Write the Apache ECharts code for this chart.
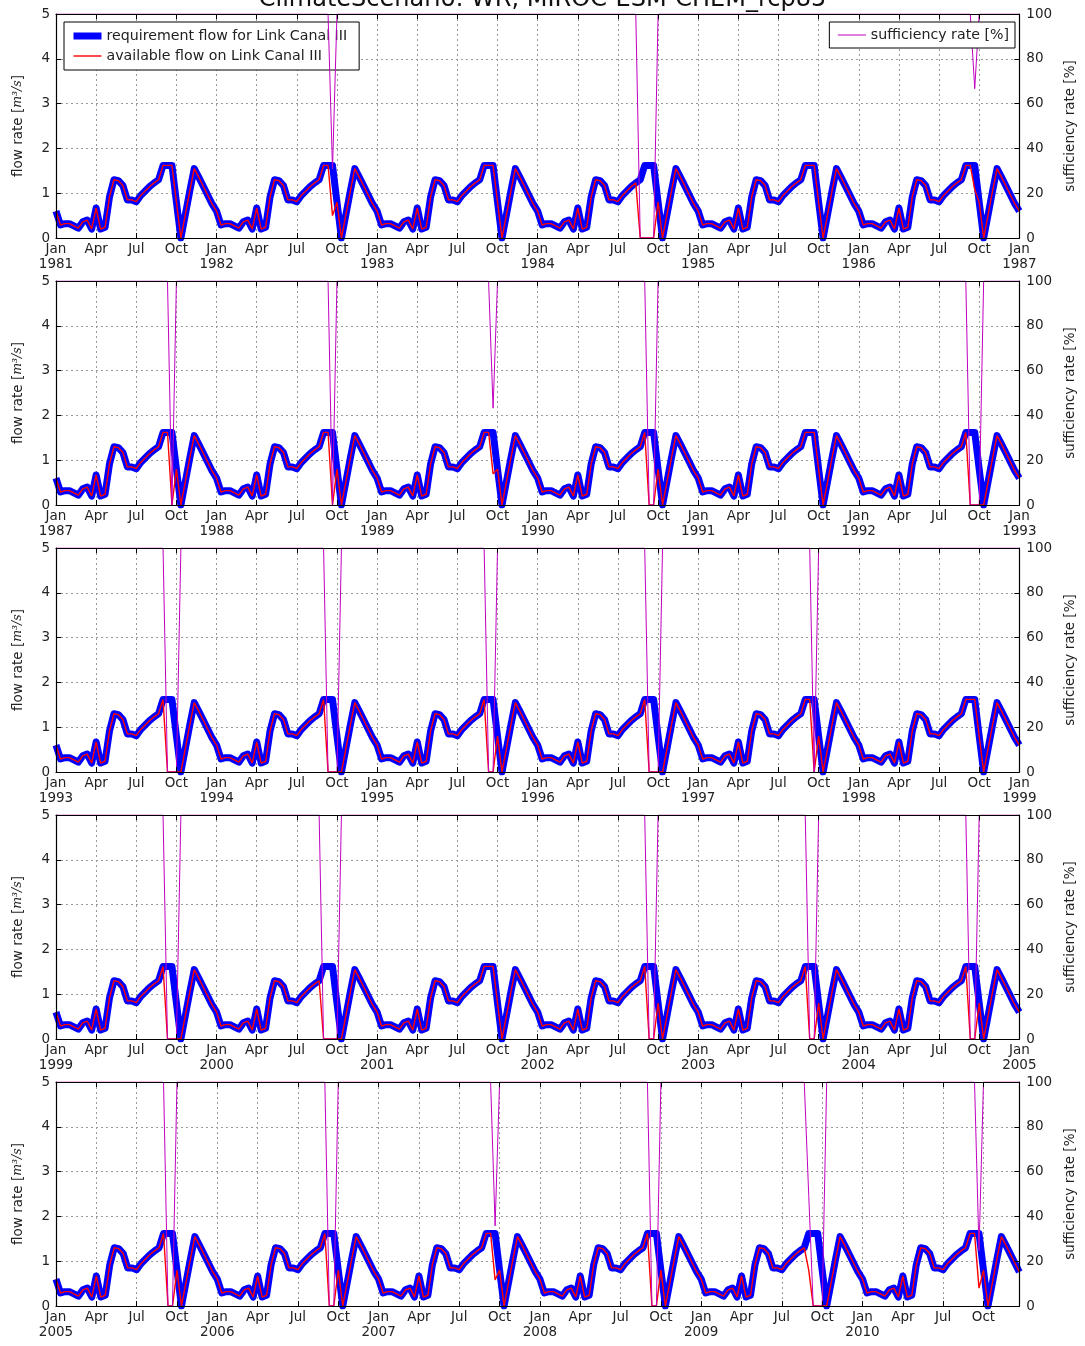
<!DOCTYPE html>
<html><head><meta charset="utf-8">
<script src="https://cdn.jsdelivr.net/npm/echarts@6/dist/echarts.min.js"></script>
<style>html,body{margin:0;padding:0;background:#fff}#c{width:1085px;height:1346px}</style>
</head><body><div id="c"></div>
<script>
// ---------- data ----------
const firstYear = 1981;
const lastYear = 2010;
const panelStarts = [1981, 1987, 1993, 1999, 2005];
const tickMonthNames = ['Jan', 'Apr', 'Jul', 'Oct'];
// requirement flow [m3/s] for the 36 dekads of a year (1,11,21 of each month) - same each year
const requirement = [
  0.60, 0.29, 0.32,   // Jan
  0.32, 0.27, 0.22,   // Feb
  0.36, 0.40, 0.20,   // Mar
  0.67, 0.20, 0.24,   // Apr
  0.92, 1.30, 1.28,   // May
  1.17, 0.85, 0.85,   // Jun
  0.81, 0.95, 1.05,   // Jul
  1.15, 1.23, 1.30,   // Aug
  1.62, 1.62, 1.62,   // Sep
  0.80, 0.00, 0.52,   // Oct
  1.05, 1.55, 1.36,   // Nov
  1.16, 0.96, 0.76    // Dec
];
// dekads where available flow is below requirement: [year, dekad (0..35), available flow]
const shortfalls = [
  [1982, 26, 0.50],
  [1984, 23, 0], [1984, 24, 0], [1984, 25, 0], [1984, 26, 0],
  [1986, 26, 1.08],
  [1987, 26, 0],
  [1988, 26, 0],
  [1989, 26, 0.70],
  [1990, 25, 0], [1990, 26, 0],
  [1992, 25, 0], [1992, 26, 0], [1992, 27, 0],
  [1993, 25, 0], [1993, 26, 0], [1993, 27, 0],
  [1994, 25, 0], [1994, 26, 0], [1994, 27, 0],
  [1995, 25, 0], [1995, 26, 0],
  [1996, 25, 0], [1996, 26, 0], [1996, 27, 0],
  [1997, 26, 0],
  [1999, 25, 0], [1999, 26, 0], [1999, 27, 0],
  [2000, 24, 0], [2000, 25, 0], [2000, 26, 0], [2000, 27, 0],
  [2002, 25, 0], [2002, 26, 0],
  [2003, 25, 0], [2003, 26, 0],
  [2004, 25, 0], [2004, 26, 0],
  [2005, 25, 0], [2005, 26, 0],
  [2006, 25, 0], [2006, 26, 0],
  [2007, 26, 0.58],
  [2008, 25, 0], [2008, 26, 0],
  [2009, 24, 0.80], [2009, 25, 0], [2009, 26, 0], [2009, 27, 0],
  [2010, 26, 0.40]
];
const titleText = 'ClimateScenario: WR, MIROC-ESM-CHEM_rcp85';
const nameReq = 'requirement flow for Link Canal III';
const nameAvail = 'available flow on Link Canal III';
const nameSuff = 'sufficiency rate [%]';

// ---------- build series (x in months since Jan of first year) ----------
const shortMap = {};
shortfalls.forEach(s => { shortMap[s[0] + '_' + s[1]] = s[2]; });
const reqAll = [], availAll = [], suffAll = [];
for (let y = firstYear; y <= lastYear; y++) {
  for (let d = 0; d < 36; d++) {
    const x = (y - firstYear) * 12 + d / 3;
    const r = requirement[d];
    const key = y + '_' + d;
    const a = (key in shortMap) ? shortMap[key] : r;
    reqAll.push([x, r]);
    availAll.push([x, a]);
    suffAll.push([x, r === 0 ? 100 : a / r * 100]);
  }
}
const lastX = reqAll[reqAll.length - 1][0];

const FONT = 'DejaVu Sans';
const grids = [], xAxes = [], yAxes = [], series = [];
panelStarts.forEach((ps, i) => {
  const off = (ps - firstYear) * 12;
  const xmax = Math.min(72, lastX - off);
  grids.push({ left: 56, width: 966, top: 14 + i * 267, height: 224 });
  const fmt = v => {
    const r = Math.round(v);
    if (Math.abs(v - r) > 1e-6 || r % 3 !== 0) return '';
    const m = r % 12;
    return m === 0 ? tickMonthNames[0] + '\n' + (ps + Math.floor(r / 12)) : tickMonthNames[m / 3];
  };
  const lineS = { show: true, onZero: false, lineStyle: { color: '#000', width: 1.2 } };
  const tickS = { show: true, inside: true, length: 5, lineStyle: { color: '#000' } };
  xAxes.push({ type: 'value', gridIndex: i, min: 0, max: xmax, interval: 3, position: 'bottom', z: 10,
    axisLine: lineS, axisTick: tickS,
    axisLabel: { formatter: fmt, color: '#222', fontSize: 13.5, fontFamily: FONT, lineHeight: 15, margin: 4, showMaxLabel: true },
    splitLine: { show: false } });
  xAxes.push({ type: 'value', gridIndex: i, min: 0, max: xmax, interval: 3, position: 'top', z: 10,
    axisLine: lineS, axisTick: tickS, axisLabel: { show: false }, splitLine: { show: false } });
  xAxes.push({ type: 'value', gridIndex: i, min: 0, max: xmax, interval: 3, position: 'bottom', z: 0,
    axisLine: { show: false }, axisTick: { show: false }, axisLabel: { show: false },
    splitLine: { show: true, lineStyle: { color: '#9a9a9a', width: 1, type: [2, 3] } } });
  yAxes.push({ type: 'value', gridIndex: i, min: 0, max: 5, interval: 1, position: 'left', z: 10,
    axisLine: lineS, axisTick: tickS,
    axisLabel: { color: '#222', fontSize: 13.5, fontFamily: FONT, margin: 6 },
    splitLine: { show: false },
    name: 'flow rate [{i|m³/s}]', nameLocation: 'middle', nameGap: 31, nameRotate: 90,
    nameTextStyle: { color: '#222', fontSize: 13.5, fontFamily: FONT,
      rich: { i: { fontStyle: 'italic', fontFamily: 'DejaVu Serif', fontSize: 12.5, color: '#222' } } } });
  yAxes.push({ type: 'value', gridIndex: i, min: 0, max: 100, interval: 20, position: 'right', z: 10,
    axisLine: lineS, axisTick: tickS,
    axisLabel: { color: '#222', fontSize: 13.5, fontFamily: FONT, margin: 7 },
    splitLine: { show: false },
    name: nameSuff, nameLocation: 'middle', nameGap: 38, nameRotate: 90,
    nameTextStyle: { color: '#222', fontSize: 13.5, fontFamily: FONT } });
  yAxes.push({ type: 'value', gridIndex: i, min: 0, max: 5, interval: 1, position: 'left', z: 0,
    axisLine: { show: false }, axisTick: { show: false }, axisLabel: { show: false },
    splitLine: { show: true, lineStyle: { color: '#9a9a9a', width: 1, type: [2, 3] } } });

  const sel = arr => arr.filter(p => p[0] >= off - 1e-9 && p[0] <= off + 72 + 1e-9).map(p => [p[0] - off, p[1]]);
  const base = { type: 'line', xAxisIndex: 3 * i, symbol: 'none', animation: false, clip: true, silent: true };
  series.push(Object.assign({}, base, { name: nameReq, yAxisIndex: 3 * i, data: sel(reqAll), z: 2,
    lineStyle: { color: '#0000ff', width: 7, join: 'round' }, itemStyle: { color: '#0000ff' } }));
  series.push(Object.assign({}, base, { name: nameAvail, yAxisIndex: 3 * i, data: sel(availAll), z: 3,
    lineStyle: { color: '#ff0000', width: 1.4 }, itemStyle: { color: '#ff0000' } }));
  series.push(Object.assign({}, base, { name: nameSuff, yAxisIndex: 3 * i + 1, data: sel(suffAll), z: 5,
    lineStyle: { color: '#c000c0', width: 1 }, itemStyle: { color: '#c000c0' } }));
});

const legendCommon = { orient: 'vertical', itemWidth: 28, itemHeight: 14, itemTextGap: 13,
  borderColor: '#000', borderWidth: 1, backgroundColor: '#fff', selectedMode: false, borderRadius: 0,
  itemStyle: { opacity: 0, borderWidth: 0 },
  textStyle: { fontFamily: FONT, fontSize: 14.2, color: '#222' } };
const chart = echarts.init(document.getElementById('c'), null, { renderer: 'canvas' });
chart.setOption({
  backgroundColor: '#fff',
  animation: false,
  title: { text: titleText, left: 'center', top: -17,
    textStyle: { fontFamily: FONT, fontSize: 24, fontWeight: 'normal', color: '#111' } },
  legend: [
    Object.assign({}, legendCommon, {
      data: [{ name: nameReq, lineStyle: { width: 7 } }, { name: nameAvail, lineStyle: { width: 1.4 } }],
      left: 64, top: 22, itemGap: 6, padding: [7, 12, 7, 6], z: 4 }),
    Object.assign({}, legendCommon, {
      data: [{ name: nameSuff, lineStyle: { width: 1 } }],
      right: 70, top: 22, padding: [6, 6, 6, 8], z: 6 })
  ],
  grid: grids, xAxis: xAxes, yAxis: yAxes, series: series
});
</script></body></html>
